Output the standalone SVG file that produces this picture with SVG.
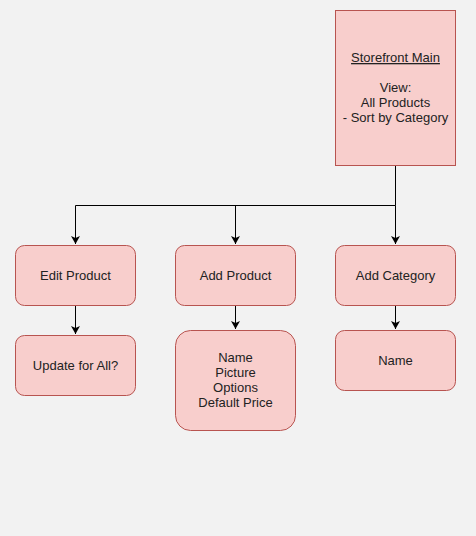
<svg xmlns="http://www.w3.org/2000/svg" width="476" height="536" viewBox="0 0 476 536">
<defs>
<marker id="arr" markerWidth="10" markerHeight="10" refX="8" refY="4.5" orient="auto" markerUnits="userSpaceOnUse">
<path d="M0,0 L8,4.5 L0,9 L2,4.5 Z" fill="#000"/>
</marker>
<style>
.n{fill:#f8cecc;stroke:#b85450;stroke-width:1}
.t{font-family:"Liberation Sans",Arial,sans-serif;font-size:13px;fill:#222;text-anchor:middle}
.c{fill:none;stroke:#000;stroke-width:1}
</style>
</defs>
<rect x="0" y="0" width="476" height="536" fill="#f2f2f2"/>
<g id="connectors">
<path class="c" d="M395.5,165.5 V205.5 H75.5 V244" marker-end="url(#arr)"/>
<path class="c" d="M235.5,205.5 V244" marker-end="url(#arr)"/>
<path class="c" d="M395.5,205.5 V244" marker-end="url(#arr)"/>
<path class="c" d="M75.5,305.5 V334" marker-end="url(#arr)"/>
<path class="c" d="M235.5,305.5 V329" marker-end="url(#arr)"/>
<path class="c" d="M395.5,305.5 V329" marker-end="url(#arr)"/>
</g>
<g id="storefront">
<rect class="n" x="335.5" y="10.5" width="120" height="155"/>
<text class="t" x="395.5" y="62" text-decoration="underline">Storefront Main</text>
<text class="t" x="395.5" y="92">View:</text>
<text class="t" x="395.5" y="107">All Products</text>
<text class="t" x="395.5" y="122">- Sort by Category</text>
</g>
<g id="edit-product">
<rect class="n" x="15.5" y="245.5" width="120" height="60" rx="9"/>
<text class="t" x="75.5" y="280">Edit Product</text>
</g>
<g id="add-product">
<rect class="n" x="175.5" y="245.5" width="120" height="60" rx="9"/>
<text class="t" x="235.5" y="280">Add Product</text>
</g>
<g id="add-category">
<rect class="n" x="335.5" y="245.5" width="120" height="60" rx="9"/>
<text class="t" x="395.5" y="280">Add Category</text>
</g>
<g id="update-all">
<rect class="n" x="15.5" y="335.5" width="120" height="60" rx="9"/>
<text class="t" x="75.5" y="370">Update for All?</text>
</g>
<g id="product-fields">
<rect class="n" x="175.5" y="330.5" width="120" height="100" rx="15"/>
<text class="t" x="235.5" y="362">Name</text>
<text class="t" x="235.5" y="377">Picture</text>
<text class="t" x="235.5" y="392">Options</text>
<text class="t" x="235.5" y="407">Default Price</text>
</g>
<g id="category-name">
<rect class="n" x="335.5" y="330.5" width="120" height="60" rx="9"/>
<text class="t" x="395.5" y="365">Name</text>
</g>
</svg>
